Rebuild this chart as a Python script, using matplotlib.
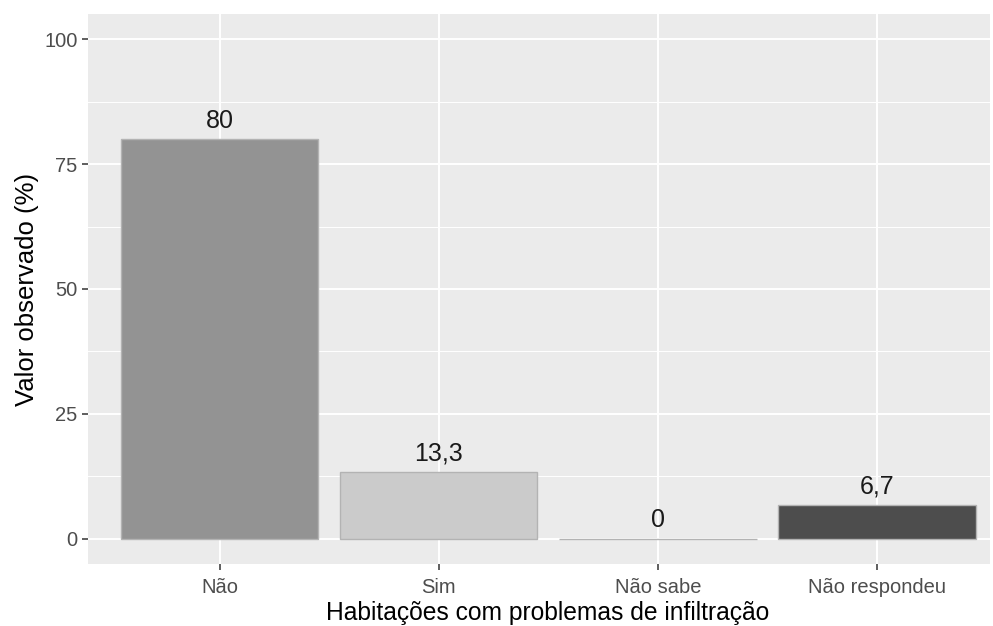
import matplotlib
matplotlib.use("Agg")
import matplotlib.pyplot as plt
from matplotlib.ticker import MultipleLocator

categories = ["Não", "Sim", "Não sabe", "Não respondeu"]
values = [80, 13.3, 0, 6.7]
value_labels = ["80", "13,3", "0", "6,7"]
bar_colors = ["#939393", "#cbcbcb", "#b8b8b8", "#4d4d4d"]
y_ticks = [0, 25, 50, 75, 100]

plt.rcParams["font.family"] = ["Liberation Sans", "DejaVu Sans"]

fig = plt.figure(figsize=(9.93, 6.26), dpi=100)
W, H = 993, 626
ax = fig.add_axes([88 / W, (H - 564) / H, (990 - 88) / W, (564 - 14) / H])
ax.set_facecolor("#ebebeb")

x = list(range(1, len(categories) + 1))
ax.bar(x, values, width=0.9, color=bar_colors, edgecolor="#b3b3b3",
       linewidth=1.0, zorder=3)

for xi, v, lab in zip(x, values, value_labels):
    ax.annotate(lab, (xi, v), xytext=(0, 13.3), textcoords="offset points",
                ha="center", va="center", fontsize=18, color="#1a1a1a",
                zorder=4)

ax.set_xlim(0.4, 4.515)
ax.set_ylim(-5.1, 105.1)
ax.set_xticks(x)
ax.set_xticklabels(categories)
ax.set_yticks(y_ticks)
ax.yaxis.set_minor_locator(MultipleLocator(12.5))

ax.grid(True, which="major", color="white", linewidth=1.4, zorder=0)
ax.grid(True, which="minor", axis="y", color="white", linewidth=0.7, zorder=0)
ax.set_axisbelow(True)
for s in ax.spines.values():
    s.set_visible(False)

ax.tick_params(axis="both", which="major", length=4, width=1.1,
               color="#333333", labelcolor="#4d4d4d", labelsize=14.5)
ax.tick_params(axis="x", which="major", pad=6)
ax.tick_params(axis="y", which="major", pad=3.5)
ax.tick_params(axis="y", which="minor", length=0)

ax.set_xlabel("Habitações com problemas de infiltração", fontsize=17.7,
              color="black", labelpad=3)
ax.xaxis.label.set_x(0.51)
ax.set_ylabel("Valor observado (%)", fontsize=18.5, color="black", labelpad=4)

fig.savefig("out.png", dpi=100)
